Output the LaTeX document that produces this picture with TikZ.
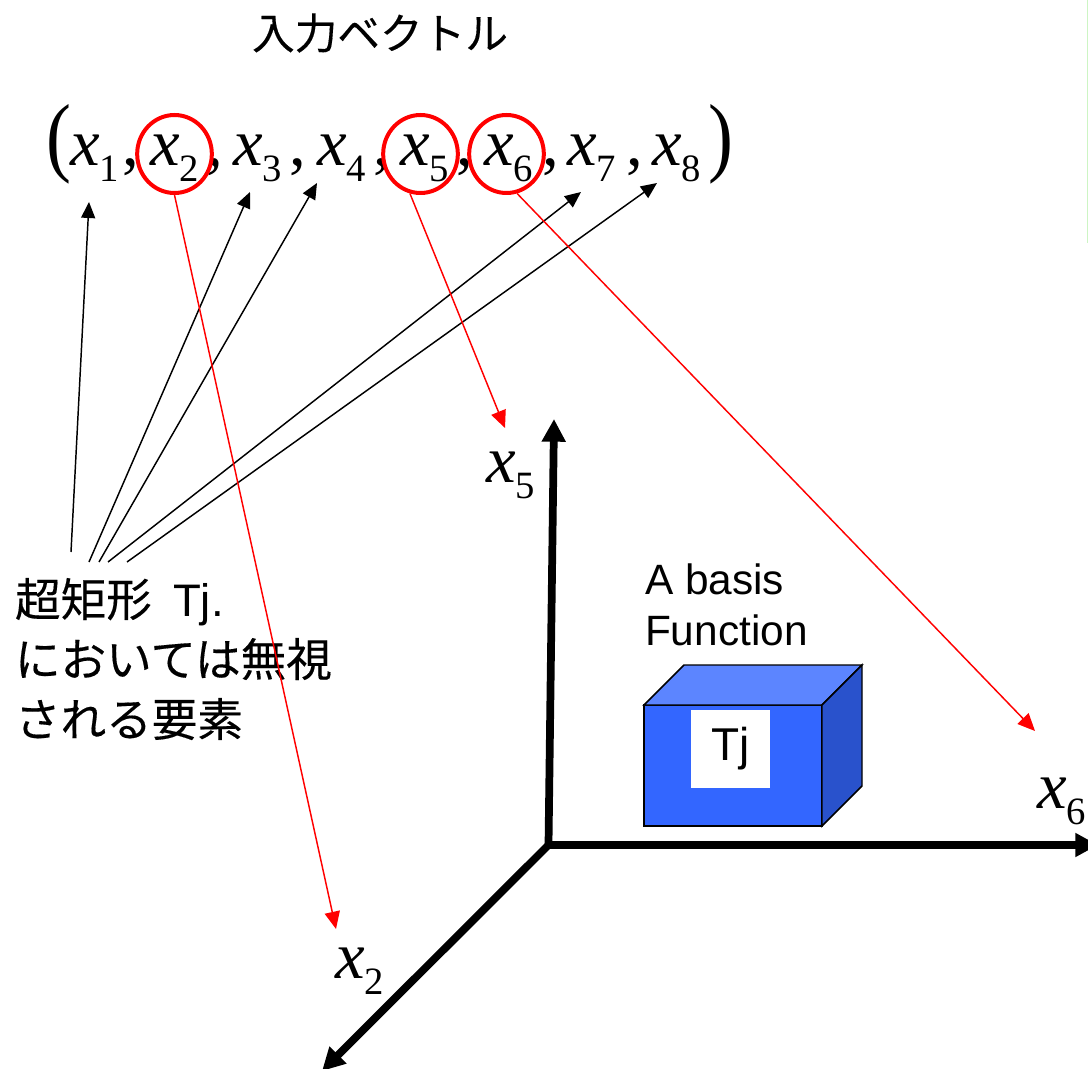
\documentclass[tikz,border=0pt]{standalone}
\usepackage{fontspec}
\setmainfont{Liberation Sans}
\newfontfamily\serifit{Liberation Serif}
\newfontfamily\jpfont[FakeBold=0.3]{Noto Sans CJK JP}
\usetikzlibrary{arrows.meta,shapes.geometric}
\definecolor{boxfront}{HTML}{3366FF}
\definecolor{boxtop}{HTML}{5C85FF}
\definecolor{boxside}{HTML}{2952CC}
\definecolor{edgegreen}{HTML}{CDF5C4}
\newcommand{\vecx}[1]{{\serifit\itshape x}\raisebox{-12pt}{\fontsize{29}{29}\serifit #1}}

\begin{document}
\begin{tikzpicture}[
  x=0.75pt, y=-0.75pt,
  vec/.style={anchor=base west, inner sep=0pt, outer sep=0pt, font=\fontsize{50}{50}\serifit},
  par/.style={anchor=base west, inner sep=0pt, outer sep=0pt, font=\fontsize{66}{66}\serifit},
  ring/.style={draw=red, line width=3pt, ellipse, inner sep=0pt, minimum width=56pt, minimum height=58.5pt},
  jp/.style={inner sep=0pt, outer sep=0pt, align=left, font=\fontsize{34.2}{45}\jpfont},
  lab/.style={inner sep=0pt, outer sep=0pt, align=left, font=\fontsize{31.8}{38}\selectfont},
  a/.style={-{Triangle[length=12pt, width=10.5pt]}, line width=1.1pt, draw=black},
  r/.style={-{Triangle[length=13pt, width=11.5pt]}, line width=1.1pt, draw=red},
  axis/.style={-{Triangle[length=17pt, width=17pt]}, line width=5.8pt, draw=black}
]
\useasboundingbox (0,0) rectangle (1088,1069);
\draw[edgegreen, line width=0.75pt] (1087,0) -- (1087,243);

\node[jp, font=\fontsize{32}{45}\jpfont] (title) at (380,33) {入力ベクトル};

% input vector
\node[par] (lp) at (46,166) {\scalebox{0.85}[1]{(}};
\node[vec] (x1) at (70,166)  {\vecx{1}};
\node[vec] (c1) at (122,166) {,};
\node[vec] (x2) at (150,166) {\vecx{2}};
\node[vec] (c2) at (206,166) {,};
\node[vec] (x3) at (233,166) {\vecx{3}};
\node[vec] (c3) at (289,166) {,};
\node[vec] (x4) at (317,166) {\vecx{4}};
\node[vec] (c4) at (373,166) {,};
\node[vec] (x5) at (400,166) {\vecx{5}};
\node[vec] (c5) at (456,166) {,};
\node[vec] (x6) at (484,166) {\vecx{6}};
\node[vec] (c6) at (542,166) {,};
\node[vec] (x7) at (567,166) {\vecx{7}};
\node[vec] (c7) at (626,166) {,};
\node[vec] (x8) at (652,166) {\vecx{8}};
\node[par] (rp) at (708,166) {\scalebox{0.85}[1]{)}};

\node[ring] (r2) at (174.5,154) {};
\node[ring] (r5) at (420.5,154) {};
\node[ring] (r6) at (506.5,154) {};

% note on the ignored elements
\node[jp, anchor=north west] (note) at (15,578) {超矩形\hspace{16pt}{\rmfamily Tj.}\\においては無視\\される要素};

\coordinate (n1) at (71,552);
\coordinate (n3) at (89,562);
\coordinate (n4) at (99,562);
\coordinate (n7) at (108,562);
\coordinate (n8) at (127,562);
\coordinate (t1) at (89,202);
\coordinate (t3) at (250,192);
\coordinate (t4) at (317,183);
\coordinate (t7) at (581,192);
\coordinate (t8) at (657,183);

\draw[a] (n1) -- (t1);
\draw[a] (n3) -- (t3);
\draw[a] (n4) -- (t4);
\draw[a] (n7) -- (t7);
\draw[a] (n8) -- (t8);

% axes
\coordinate (o) at (548.5,845);
\coordinate (up) at (554,419);
\coordinate (right) at (1098,845);
\coordinate (down) at (322,1071);

\draw[axis] (o) -- (up);
\draw[axis] (o) -- (right);
\draw[axis] (o) -- (down);

\node[vec] (a5) at (486,483) {\vecx{5}};
\node[vec] (a6) at (1037,808) {\vecx{6}};
\node[vec] (a2) at (335,978) {\vecx{2}};

\coordinate (p2) at (336,929);
\coordinate (p5) at (505,428);
\coordinate (p6) at (1035,731);

\draw[r] (r2.south) -- (p2);
\draw[r] (r5.255) -- (p5);
\draw[r] (r6.285) -- (p6);

% basis function box
\node[draw=black, line width=1.1pt, fill=boxfront, inner sep=0pt, outer sep=0pt,
      minimum width=133.5pt, minimum height=90.75pt] (box) at (733,765.5) {};
\draw[line width=1.1pt, fill=boxtop] (box.north west) -- ++(40,-40) -- ++(178,0) -- (box.north east) -- cycle;
\draw[line width=1.1pt, fill=boxside] (box.north east) -- ++(40,-40) -- ++(0,121) -- (box.south east) -- cycle;
\node[fill=white, inner sep=0pt, outer sep=0pt, minimum width=59pt, minimum height=58.5pt,
      font=\fontsize{34.5}{38}\selectfont] (tj) at (730.5,749) {Tj};
\node[lab, anchor=west] (basis) at (645,605) {A basis\\Function};
\end{tikzpicture}
\end{document}
